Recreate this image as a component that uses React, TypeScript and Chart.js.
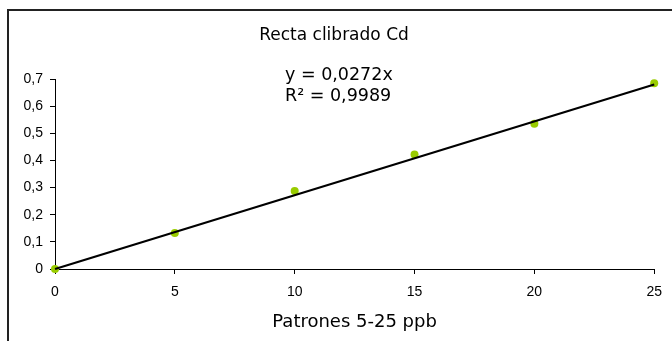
import { useEffect, useRef } from "react";
import { Chart, registerables } from "chart.js";

Chart.register(...registerables);

// Calibration standards (ppb) and measured absorbance
const concentrations = [0, 5, 10, 15, 20, 25];
const absorbances = [0, 0.133, 0.287, 0.422, 0.535, 0.684];

// Linear trendline through the origin
const slope = 0.0272;
const rSquared = 0.9989;

const xTickValues = [0, 5, 10, 15, 20, 25];
const yTickLabels = ["0", "0,1", "0,2", "0,3", "0,4", "0,5", "0,6", "0,7"];

const chartTitle = "Recta clibrado Cd";
const xAxisTitle = "Patrones 5-25 ppb";

const comma = (v: number) => String(v).replace(".", ",");
const equationLines = [`y = ${comma(slope)}x`, `R² = ${comma(rSquared)}`];

const VERDANA = "'DejaVu Sans', Verdana, sans-serif";
const ARIAL = "'Liberation Sans', Arial, sans-serif";

const overlayPlugin = {
  id: "overlay",
  beforeDraw(chart: any) {
    const { ctx } = chart;
    ctx.save();
    ctx.fillStyle = "#ffffff";
    ctx.fillRect(0, 0, chart.width, chart.height);
    // outer frame (top and left edges)
    ctx.strokeStyle = "#222222";
    ctx.lineWidth = 2;
    ctx.beginPath();
    ctx.moveTo(8, chart.height);
    ctx.lineTo(8, 10);
    ctx.lineTo(chart.width, 10);
    ctx.stroke();
    ctx.restore();
  },
  afterDraw(chart: any) {
    const { ctx } = chart;
    ctx.save();
    ctx.fillStyle = "#000000";
    ctx.textBaseline = "alphabetic";
    ctx.textAlign = "center";
    ctx.font = `17px ${VERDANA}`;
    ctx.fillText(chartTitle, 334, 40);
    ctx.font = `17.5px ${VERDANA}`;
    ctx.textAlign = "left";
    ctx.fillText(equationLines[0], 285, 80);
    ctx.fillText(equationLines[1], 285, 101);
    ctx.restore();
  },
};

export default function App() {
  const canvasRef = useRef<HTMLCanvasElement | null>(null);

  useEffect(() => {
    const canvas = canvasRef.current;
    if (!canvas) return;
    const points = concentrations.map((x, i) => ({ x, y: absorbances[i] }));
    const xMax = xTickValues[xTickValues.length - 1];
    const trend = [
      { x: 0, y: 0 },
      { x: xMax, y: slope * xMax },
    ];

    const chart = new Chart(canvas, {
      type: "scatter",
      data: {
        datasets: [
          {
            label: "Patrones",
            data: points,
            backgroundColor: "#99cc00",
            borderColor: "#99cc00",
            pointRadius: 4,
            pointHoverRadius: 4,
            pointBorderWidth: 0,
            clip: false,
            order: 1,
          },
          {
            label: "Lineal",
            data: trend,
            showLine: true,
            borderColor: "#000000",
            borderWidth: 2.2,
            pointRadius: 0,
            clip: false,
            order: 0,
          } as any,
        ],
      },
      options: {
        responsive: false,
        animation: false,
        devicePixelRatio: 1,
        layout: { padding: { left: 0, top: 79, right: 13, bottom: 0 } },
        plugins: {
          legend: { display: false },
          tooltip: { enabled: false },
          title: { display: false },
        },
        scales: {
          x: {
            type: "linear",
            min: 0,
            max: xMax,
            afterFit: (scale: any) => {
              scale.height = 72;
            },
            afterBuildTicks: (scale: any) => {
              scale.ticks = xTickValues.map((value) => ({ value }));
            },
            ticks: {
              color: "#000000",
              font: { family: ARIAL, size: 14 },
              padding: 10,
              maxRotation: 0,
              callback: (v: any) => String(v),
            },
            grid: {
              display: true,
              drawOnChartArea: false,
              drawTicks: true,
              tickLength: 5,
              color: "#000000",
            },
            border: { display: true, color: "#000000", width: 1 },
            title: {
              display: true,
              text: xAxisTitle,
              color: "#000000",
              font: { family: VERDANA, size: 18 },
              padding: { top: 0, bottom: 8 },
            },
          },
          y: {
            type: "linear",
            min: 0,
            max: 0.7,
            afterFit: (scale: any) => {
              scale.width = 55;
            },
            afterBuildTicks: (scale: any) => {
              scale.ticks = yTickLabels.map((_, i) => ({ value: i / 10 }));
            },
            ticks: {
              color: "#000000",
              font: { family: ARIAL, size: 14 },
              padding: 7,
              callback: (v: any) => yTickLabels[Math.round(Number(v) * 10)],
            },
            grid: {
              display: true,
              drawOnChartArea: false,
              drawTicks: true,
              tickLength: 5,
              color: "#000000",
            },
            border: { display: true, color: "#000000", width: 1 },
          },
        },
      },
      plugins: [overlayPlugin],
    });

    return () => chart.destroy();
  }, []);

  return (
    <canvas
      ref={canvasRef}
      width={672}
      height={341}
      style={{ position: "fixed", left: 0, top: 0, width: 672, height: 341 }}
    />
  );
}
